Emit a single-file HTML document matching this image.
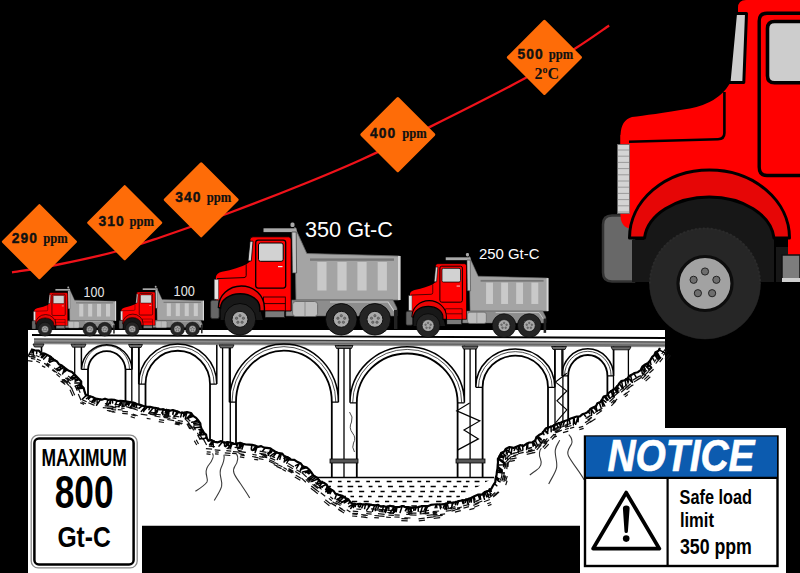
<!DOCTYPE html><html><head><meta charset="utf-8"><style>html,body{margin:0;padding:0;background:#000;width:800px;height:573px;overflow:hidden}svg{display:block}</style></head><body>
<svg width="800" height="573" viewBox="0 0 800 573" font-family="Liberation Sans, sans-serif">
<rect width="800" height="573" fill="#000"/>
<path d="M28,330 H665 V428 H786 V573 H580 V525.8 H142 V573 H28 Z" fill="#fff"/>
<path d="M32,335 L665,338" stroke="#000" stroke-width="1.8" fill="none"/>
<path d="M34,338.4 L665,341.4 L665,347.2 L34,344.2 Z" fill="#8e8e8e"/>
<path d="M34,339 L665,342" stroke="#3a3a3a" stroke-width="1.2" fill="none"/>
<path d="M34,342.3 L665,345.3" stroke="#666" stroke-width="1.4" fill="none"/>
<path d="M88,395.4 V369.4 A18.8,19.8 0 0 1 125.5,369.4 V401.1" stroke="#000" stroke-width="1.8" fill="none"/>
<path d="M81.4,344.4 V369.4 A25.4,26.4 0 0 1 132.1,369.4 V344.4" stroke="#000" stroke-width="1.5" fill="none"/>
<path d="M84,369.4 A22.7,23.8 0 0 1 129.5,369.4" stroke="#000" stroke-width="0.7" fill="none"/>
<path d="M81.4,369.4 H88 M125.5,369.4 H132.1" stroke="#000" stroke-width="1.2"/>
<path d="M145.5,406.3 V384.1 A32.2,33.3 0 0 1 210,384.1 V440.6" stroke="#000" stroke-width="1.8" fill="none"/>
<path d="M138.7,344.7 V384.1 A39,40.1 0 0 1 216.8,384.1 V344.7" stroke="#000" stroke-width="1.5" fill="none"/>
<path d="M141.4,384.1 A36.3,37.4 0 0 1 214.1,384.1" stroke="#000" stroke-width="0.7" fill="none"/>
<path d="M138.7,384.1 H145.5 M210,384.1 H216.8" stroke="#000" stroke-width="1.2"/>
<path d="M236,443.1 V402.2 A47.9,51.6 0 0 1 331.8,402.2 V477.5" stroke="#000" stroke-width="1.8" fill="none"/>
<path d="M229.4,345.2 V402.2 A54.5,58.2 0 0 1 338.4,402.2 V345.2" stroke="#000" stroke-width="1.5" fill="none"/>
<path d="M232,402.2 A51.9,55.6 0 0 1 335.8,402.2" stroke="#000" stroke-width="0.7" fill="none"/>
<path d="M229.4,402.2 H236 M331.8,402.2 H338.4" stroke="#000" stroke-width="1.2"/>
<path d="M356.8,477.5 V402.8 A50.4,49.3 0 0 1 457.6,402.8 V477.5" stroke="#000" stroke-width="1.8" fill="none"/>
<path d="M350,345.8 V402.8 A57.2,56.1 0 0 1 464.4,402.8 V345.8" stroke="#000" stroke-width="1.5" fill="none"/>
<path d="M352.7,402.8 A54.5,53.4 0 0 1 461.7,402.8" stroke="#000" stroke-width="0.7" fill="none"/>
<path d="M350,402.8 H356.8 M457.6,402.8 H464.4" stroke="#000" stroke-width="1.2"/>
<path d="M482.6,477.5 V387.3 A32.7,31.6 0 0 1 548,387.3 V427.3" stroke="#000" stroke-width="1.8" fill="none"/>
<path d="M475.8,346.3 V387.3 A39.5,38.4 0 0 1 554.8,387.3 V346.3" stroke="#000" stroke-width="1.5" fill="none"/>
<path d="M478.5,387.3 A36.8,35.7 0 0 1 552.1,387.3" stroke="#000" stroke-width="0.7" fill="none"/>
<path d="M475.8,387.3 H482.6 M548,387.3 H554.8" stroke="#000" stroke-width="1.2"/>
<path d="M568.2,419.7 V375.9 A19.6,20.9 0 0 1 607.4,375.9 V394.1" stroke="#000" stroke-width="1.8" fill="none"/>
<path d="M562,346.7 V375.9 A25.8,27.1 0 0 1 613.6,375.9 V346.7" stroke="#000" stroke-width="1.5" fill="none"/>
<path d="M564.5,375.9 A23.3,24.6 0 0 1 611.1,375.9" stroke="#000" stroke-width="0.7" fill="none"/>
<path d="M562,375.9 H568.2 M607.4,375.9 H613.6" stroke="#000" stroke-width="1.2"/>
<path d="M74.7,344.2 V375" stroke="#000" stroke-width="1.3"/>
<path d="M131.8,344.5 V402.1" stroke="#000" stroke-width="1.3"/>
<path d="M139,344.5 V404.5" stroke="#000" stroke-width="1.3"/>
<path d="M222.6,344.9 V441.8" stroke="#000" stroke-width="1.3"/>
<path d="M230.3,345 V442.6" stroke="#000" stroke-width="1.3"/>
<path d="M344,345.5 V477.5" stroke="#000" stroke-width="1.3"/>
<path d="M470.1,346.1 V477.5" stroke="#000" stroke-width="1.3"/>
<path d="M555,346.5 V424.4" stroke="#000" stroke-width="1.3"/>
<path d="M562.9,346.6 V421.2" stroke="#000" stroke-width="1.3"/>
<path d="M613.5,346.8 V388.8" stroke="#000" stroke-width="1.3"/>
<path d="M628.4,346.9 V377.4" stroke="#000" stroke-width="1.3"/>
<path d="M33,344 h11 l-1.5,3 h-8 z" fill="#6a6a6a" stroke="#000" stroke-width="0.8"/>
<path d="M71,344.2 h15 l-1.5,3 h-12 z" fill="#6a6a6a" stroke="#000" stroke-width="0.8"/>
<path d="M128.5,344.5 h14 l-1.5,3 h-11 z" fill="#6a6a6a" stroke="#000" stroke-width="0.8"/>
<path d="M219,344.9 h15 l-1.5,3 h-12 z" fill="#6a6a6a" stroke="#000" stroke-width="0.8"/>
<path d="M335,345.5 h18 l-1.5,3 h-15 z" fill="#6a6a6a" stroke="#000" stroke-width="0.8"/>
<path d="M462,346.1 h16 l-1.5,3 h-13 z" fill="#6a6a6a" stroke="#000" stroke-width="0.8"/>
<path d="M551.5,346.5 h15 l-1.5,3 h-12 z" fill="#6a6a6a" stroke="#000" stroke-width="0.8"/>
<path d="M611,346.8 h20 l-1.5,3 h-17 z" fill="#6a6a6a" stroke="#000" stroke-width="0.8"/>
<rect x="330" y="459" width="28" height="4" fill="#555" stroke="#000" stroke-width="0.8"/>
<rect x="456" y="459" width="29" height="4" fill="#555" stroke="#000" stroke-width="0.8"/>
<path d="M41.5,347 V352" stroke="#000" stroke-width="1.6"/>
<path d="M349.5,412 q4,5 2,10 q-3,6 1,11 q4,5 1,10 q-2,4 1,9" stroke="#4a4a4a" stroke-width="1" fill="none"/>
<path d="M469.6,402.9 L456.8,410.8 L479.8,420.9 L464,429.9 L478.4,438.9 L457.4,450.1" stroke="#000" stroke-width="1.2" fill="none"/>
<path d="M566.8,373.2 L555.5,382.1 L566.8,391 L557,400.8 L566.8,409.8 L555.5,422.8" stroke="#000" stroke-width="1.1" fill="none"/>
<clipPath id="wclip"><path d="M316.5,477.5 L493.8,477.5 L450,503 L415,507.4 L390,506.5 L354,503.5 L336,493 L316.5,477.5 Z"/></clipPath>
<path d="M300,481.5 h4.1 M309,481.5 h4.8 M318.5,481.5 h4.6 M328.5,481.5 h3.6 M337.9,481.5 h3.6 M347,481.5 h3.6 M355.4,481.5 h4.3 M366.3,481.5 h3.7 M375.1,481.5 h4.8 M386.7,481.5 h4.7 M396.9,481.5 h5.5 M407,481.5 h5.2 M417.4,481.5 h3.8 M426,481.5 h4.1 M436.6,481.5 h3.9 M446.5,481.5 h4.8 M456.7,481.5 h4.6 M465.9,481.5 h3.6 M474.6,481.5 h4.9 M485,481.5 h4.1 M495.1,481.5 h4.4 M305,486.5 h5.1 M316.3,486.5 h4 M326.3,486.5 h4.6 M337.5,486.5 h5 M347.7,486.5 h5.5 M357.9,486.5 h4.3 M368.7,486.5 h3.8 M378.2,486.5 h3.6 M387.9,486.5 h5 M398.9,486.5 h5.3 M409.4,486.5 h4.9 M420.3,486.5 h4.7 M430.6,486.5 h5.2 M442.7,486.5 h4.4 M453.3,486.5 h3.6 M463.1,486.5 h4.8 M474.9,486.5 h5.1 M485.3,486.5 h4.3 M495.7,486.5 h3.5 M300,491.5 h3.8 M308.6,491.5 h3.6 M318.7,491.5 h3.8 M327.5,491.5 h4.3 M338.5,491.5 h3.7 M347.8,491.5 h4.6 M359.1,491.5 h5.1 M370.9,491.5 h4.1 M380.5,491.5 h4.2 M391.4,491.5 h5.4 M401.7,491.5 h3.9 M410.6,491.5 h4 M420.3,491.5 h4.7 M430.2,491.5 h3.5 M439.2,491.5 h4.2 M449.4,491.5 h5.4 M461,491.5 h4.5 M471.6,491.5 h4.9 M481.1,491.5 h5.3 M492.8,491.5 h5.2 M305,496.5 h4.3 M314.8,496.5 h3.7 M324.6,496.5 h3.6 M332.9,496.5 h3.9 M341.7,496.5 h4.2 M350.5,496.5 h3.5 M358.9,496.5 h3.7 M368,496.5 h3.6 M378.2,496.5 h4.7 M387.8,496.5 h4 M397.2,496.5 h4.2 M406.2,496.5 h5.2 M418.4,496.5 h4.4 M428.6,496.5 h3.7 M437,496.5 h4.2 M446.3,496.5 h5.2 M456.4,496.5 h3.5 M466.8,496.5 h4.6 M476.2,496.5 h4.6 M485.4,496.5 h4.6 M496.9,496.5 h5.2 M300,501.5 h4 M309.4,501.5 h3.8 M319.7,501.5 h4.6 M330.7,501.5 h4.2 M339.9,501.5 h5.1 M352,501.5 h5.2 M363.7,501.5 h5.1 M375.2,501.5 h4 M385,501.5 h4.2 M393.8,501.5 h3.6 M402.5,501.5 h4 M412.8,501.5 h5.4 M423.8,501.5 h5.4 M436.1,501.5 h5.4 M447,501.5 h3.9 M456,501.5 h3.9 M464.9,501.5 h4.7 M476.4,501.5 h5.2 M487.2,501.5 h4.8 M498.6,501.5 h3.7 M305,506 h5.3 M316.8,506 h5 M327.5,506 h3.9 M337.8,506 h4.2 M348.5,506 h5.4 M359.4,506 h4.3 M370.6,506 h4.9 M380.4,506 h3.8 M389.1,506 h5.3 M400.9,506 h3.8 M411.3,506 h5.5 M422.9,506 h4.2 M432.9,506 h3.8 M441.2,506 h5.4 M452.8,506 h4.6 M464.2,506 h4.4 M475.2,506 h5.2 M485.4,506 h4 M494.7,506 h4" stroke="#000" stroke-width="1.5" clip-path="url(#wclip)"/>
<path d="M316,477.5 H494" stroke="#000" stroke-width="1.5"/>
<path d="M31.1,349.3 L34.7,350.3 L38.7,350.5 L41.2,353.3 L44.8,353.7 L47.9,355.3 L50.9,356.9 L53.3,359.7 L56.7,361.2 L58.9,364.2 L62.2,365.8 L65,368.1 L68.2,370.4 L72,371.9 L74.8,374.9 L78,378.1 L81.2,381.6 L81.2,385.4 L83.7,388 L84.5,391.4 L85.7,394.9 L89.1,396 L92.5,397 L95.6,398.7 L98.7,399.1 L101.8,399.8 L105,398.7 L108.1,399.8 L111.3,399.5 L114.4,399.8 L117.4,401 L120.6,400.8 L123.7,401.1 L126.8,401.8 L129.7,402.3 L133.4,402.5 L136.7,404 L140.1,404.9 L143.5,406 L146.7,406.9 L150,406.9 L153.2,407.6 L156.5,408 L159.6,409.4 L162.9,409.4 L166.1,410.2 L169.4,410.9 L172.8,410 L176,411.1 L179.5,412.5 L183.1,412.9 L187,412.2 L191,413 L193.1,415.9 L196.1,417.9 L198.5,420.8 L200.3,423.4 L200.7,426.7 L202,429.6 L203.3,432.5 L206.1,434.6 L206.6,437.9 L208.5,440.8 L211.7,440.1 L214.7,441.9 L217.9,442.3 L221.2,441.1 L224.2,442.9 L227.4,442.1 L230.6,442.6 L233.6,443.9 L236.8,443.9 L240.1,442.8 L243,443.9 L246,444.5 L249.1,444.7 L252.1,444.9 L255.1,445.6 L257.9,446.9 L261.2,446.1 L264,447.6 L267,447.9 L270.4,448.4 L273.1,450.3 L275.9,452.1 L279,453.2 L282.3,453.6 L284.6,456.6 L287.7,457.5 L290.5,459.6 L294.4,459.8 L297.2,461.8 L300.5,463.2 L302.7,466.2 L306.3,467.2 L309.1,469.5 L311.4,472.4 L313.3,475.6 L316.5,477.5" stroke="#000" stroke-width="2.2" fill="none" stroke-linejoin="round"/>
<path d="M28.7,354.2 L35.3,355.5 M28.3,356.3 L34.9,357.5 M31.3,356.2 L35.7,357.1 M30.9,358.3 L35.3,359.1 M28.1,360.6 L32.5,361.4 M36.1,355.5 L39.5,357 M44.1,363.4 L49,365.6 M37,359.1 L40.8,360.7 M36.2,361 L39.9,362.7 M42,365.9 L45.3,367.4 M56.2,368.3 L59.4,370.8 M54,367.9 L58.2,371.2 M52.7,369.5 L56.9,372.8 M52.1,369.7 L54.9,372 M46.9,362.9 L50.4,365.6 M45.6,364.5 L49.1,367.3 M57.8,372.7 L61.2,375.4 M56.5,374.3 L59.9,377.1 M65.3,377.9 L69.4,380.8 M64.1,379.6 L68.1,382.5 M68,375.9 L72.3,379 M66.7,377.6 L71.1,380.7 M63,379.4 L65.9,381.5 M61.8,381.1 L64.6,383.2 M61.8,379.4 L66.6,382.8 M60.6,381.1 L65.3,384.5 M69.5,385.7 L72.2,389 M67.3,380.3 L70.5,384.2 M65.7,381.6 L68.9,385.6 M64.9,380.8 L67.8,384.3 M77.4,386.6 L80.2,392.7 M77.1,385.3 L79.2,390 M75.2,386.1 L77.3,390.8 M71.9,388.9 L74.7,395.2 M70,389.7 L72.8,396 M78.3,394.1 L81,400.3 M82.4,399.9 L86.7,401.7 M81.6,401.8 L85.9,403.7 M89.1,400.8 L95.3,403.5 M88.3,402.8 L94.5,405.4 M80.1,402.7 L84.1,404.4 M122.3,411.3 L128,411.8 M122.2,413.4 L127.8,413.9 M111.9,409.7 L115.5,410 M111.7,411.8 L115.4,412.1 M107,408.4 L111,408.7 M106.9,410.5 L110.8,410.8 M108.7,411.1 L114.1,411.5 M109.1,406.2 L113.6,406.6 M108.9,408.3 L113.4,408.7 M117.8,409.6 L122.7,410 M102.8,407.6 L107.7,408 M114.8,404.4 L120,404.8 M114.6,406.5 L119.8,406.9 M111.6,407.4 L116.3,407.8 M111.4,409.5 L116.1,409.8 M107.5,407.8 L111.8,408.2 M104.9,403.7 L109.2,404.1 M104.7,405.8 L109,406.2 M121.2,406 L124.8,406.3 M121.1,408.1 L124.6,408.4 M126.2,406.6 L132.7,408.8 M130.9,407.5 L136.2,409.3 M131.3,414.6 L135.6,416 M130.7,416.6 L134.9,418 M132.8,414 L137.7,415.7 M133.9,406.7 L138.5,408.3 M133.2,408.7 L137.9,410.3 M163.9,415.2 L170.7,416.3 M163.6,417.3 L170.4,418.3 M159.1,419.6 L164.2,420.4 M158.7,421.7 L163.9,422.5 M140.7,414.2 L147.4,415.2 M146.7,418.4 L150.6,419 M163.3,414.2 L168.3,414.9 M163,416.2 L168,417 M167.3,419.5 L174.2,420.6 M150.1,412.1 L156.8,413.2 M149.8,414.2 L156.5,415.3 M154.8,414 L160.7,414.9 M154.5,416 L160.4,417 M172.5,417.8 L176.3,418.4 M148.2,413.3 L155,414.3 M175.1,421.8 L180.1,422.7 M174.7,423.9 L179.7,424.8 M173.2,415.8 L179.3,416.8 M177.8,420.5 L182.9,421.3 M177.5,422.5 L182.6,423.4 M175.5,422.9 L182,424 M189.5,424.4 L192.8,427.7 M188.1,425.9 L191.3,429.2 M186.5,417.5 L190.3,421.2 M185.1,418.9 L188.8,422.7 M187.7,423.5 L192.6,428.4 M188.8,422.7 L191.6,428 M186.9,423.7 L189.8,429 M193.5,426.6 L195.4,430.1 M203.7,439.6 L206.6,445 M196.2,439.7 L198.5,444 M194.3,440.7 L196.7,445 M193.5,425.7 L195.5,429.4 M191.7,426.7 L193.7,430.4 M199.3,431.9 L201.1,435.3 M197.4,432.9 L199.3,436.3 M199.5,433.9 L202,438.6 M197.6,434.9 L200.2,439.6 M234.6,447.4 L239.8,447.9 M215.2,451.8 L218.8,452.1 M215,453.9 L218.6,454.2 M214.7,449.8 L220.4,450.3 M233,451.6 L239.3,452.2 M224.8,452.9 L230.5,453.4 M224.6,455 L230.3,455.5 M232.1,453.3 L236.2,453.7 M206.7,451.9 L210.7,452.2 M206.5,453.9 L210.5,454.3 M208.8,446.2 L214.9,446.7 M205.9,448.6 L212.1,449.2 M226.5,448.5 L231.4,449 M226.3,450.6 L231.2,451.1 M240.3,454.8 L244.7,455.6 M239.9,456.9 L244.3,457.6 M239.3,451.3 L245.9,452.4 M252.4,454.4 L256.7,455.1 M252.1,456.5 L256.3,457.2 M238.2,448.3 L242.2,449 M237.8,450.4 L241.8,451.1 M254.5,457.2 L258.5,457.9 M254.2,459.3 L258.2,459.9 M239,451.4 L244.6,452.4 M238.6,453.5 L244.3,454.5 M262.3,454.7 L267.5,455.5 M261.9,456.7 L267.2,457.6 M259.7,451.2 L266.5,452.4 M259.3,453.3 L266.2,454.4 M259.2,456.6 L263.9,457.4 M258.8,458.7 L263.5,459.5 M271.6,456.2 L274.8,457.6 M270.7,458.1 L274,459.5 M277.3,464.5 L282.4,466.7 M276.5,466.4 L281.6,468.6 M269,461.3 L274.6,463.7 M267.4,452 L270.8,453.4 M271.6,456 L275.1,457.5 M260.9,454.3 L267.2,457 M269.9,457.9 L275.2,460.1 M269.1,459.8 L274.4,462 M274.5,462.5 L278.3,464.2 M273.7,464.5 L277.4,466.1 M283.4,467.4 L287,469.5 M282.3,469.2 L285.9,471.3 M288.2,463.5 L294,466.9 M287.2,465.4 L293,468.7 M295.8,475.3 L301.4,478.5 M294.8,477.1 L300.3,480.3 M288.5,469.6 L293.7,472.6 M288.6,468.5 L293.4,471.3 M287.6,470.4 L292.3,473.1 M296.4,469.8 L301.2,472.6 M295.3,471.6 L300.1,474.4 M308.7,477.3 L312,480.5 M307.2,478.8 L310.6,482 M301.8,472.5 L306.7,477.1 M307.3,477.9 L310.6,481.1 M305.8,479.4 L309.2,482.6 M301.8,478.4 L305.9,482.3" stroke="#111" stroke-width="1.2" fill="none"/>
<path d="M36.9,350.9 L36.6,353.7 M31.5,349.9 L28.7,355.4 M33.5,350.3 L33.3,355 M33,350.2 L31.8,353 M45.3,354.3 L43.2,356.9 M50.2,356.4 L49.1,359.2 M43.8,353.6 L42.2,357.8 M43.4,353.4 L41.2,357.4 M50.8,356.7 L49.4,360.3 M47.3,355.2 L43.7,359.1 M42.8,353.1 L40.2,355 M53.6,358.8 L49.3,360.4 M54.9,359.9 L49.8,362.4 M61.9,365.5 L60.2,367.8 M53,358.4 L48.7,361.2 M55.2,360.2 L49.6,362.1 M64.4,367.5 L58.1,370.1 M63.5,366.8 L59.3,370.6 M61.7,365.4 L57.3,368.7 M55,360 L49.7,362.1 M65.8,368.6 L64,370.6 M74.3,374.7 L71,377.3 M65.5,368.4 L63.5,370.1 M67.4,369.7 L64.5,372 M65.7,368.5 L62.6,373.9 M65.9,368.6 L63.1,372.3 M78.3,379.5 L75.1,380 M76.1,376.8 L70.4,378.4 M77.9,379 L74.9,379.3 M76.2,376.9 L71.9,379.8 M78.5,379.7 L75.1,381.3 M80.8,383.1 L74.8,383 M82.3,386.5 L77.6,387.9 M81.9,385.5 L78.7,385.7 M83.1,388.2 L76.8,388.8 M81.2,384 L75.2,386.1 M82.6,387.1 L76.9,387.7 M95.6,398.7 L92,402.4 M90.1,396.3 L86.5,398.7 M86.9,394.9 L82.2,399.3 M95,398.4 L92.1,401 M90.9,396.6 L88.5,399.2 M121.3,400.8 L119.5,404 M121.5,400.8 L120.3,405.2 M108,399.7 L106.4,404.8 M122.8,400.9 L118.7,406.5 M126.4,401.2 L125.6,405.2 M110.5,399.9 L110.3,403.7 M128.9,401.4 L127.7,404.3 M121.9,400.8 L122.4,406.6 M112.4,400.1 L112.6,402.9 M127.5,401.3 L125.9,405.8 M111,400 L107.8,405.3 M100.8,399.1 L96.5,405.2 M124,401 L123.9,406.3 M126.4,401.2 L126.2,404 M95.6,398.7 L94.8,401.7 M96.9,398.8 L97.3,404.2 M117.2,400.5 L115.4,404.9 M130.3,401.6 L128.5,405.7 M135.7,403.4 L134.2,406.6 M142.5,405.7 L139.2,408.2 M134.6,403 L132.9,406.9 M132.7,402.4 L130.7,407.7 M136.8,403.8 L136.3,407.1 M134.2,402.9 L129.7,407.5 M168.2,409.8 L167.5,413.8 M153.5,407.5 L149.2,412.7 M166.4,409.5 L165.2,412.7 M158,408.2 L157.3,412 M158.9,408.4 L155.8,413 M163.8,409.1 L161.7,413 M158.6,408.3 L154.1,413.4 M149.8,407 L149,409.6 M155.3,407.8 L155.3,411.7 M144.9,406.2 L143.7,411.6 M173.5,410.6 L172.8,414.2 M162.9,409 L162.8,414.8 M145.6,406.3 L141.3,411.5 M166.8,409.6 L166.1,413.9 M169.2,409.9 L168.4,416.1 M147.8,406.7 L144.1,410.6 M173.8,410.7 L172.9,414.3 M177.2,411.2 L176,413.9 M186.3,412.8 L183.5,416.6 M182,412 L180.7,416.9 M186.8,412.9 L185.3,418.6 M177.8,411.3 L174.2,416.6 M184.2,412.4 L183.4,416.3 M178.9,411.5 L176.6,414.7 M197.1,420.1 L194,421.8 M193.3,416.3 L187,418.5 M190.9,413.9 L187.6,417.5 M192,415 L189.5,416.5 M191.8,414.8 L188.4,418.3 M205.3,434.6 L200.8,434.9 M201.2,427 L194.4,427.7 M203.9,432 L199.9,432.8 M207.1,437.9 L200.2,438.8 M200.1,424.8 L194,424.9 M198.1,421.1 L191.8,422.3 M206.6,437 L203.2,439.3 M202.8,430 L199,429.6 M203.8,431.8 L199.6,434.7 M198.9,422.7 L193.7,423.5 M203.3,430.8 L199.9,431.1 M228.3,442.4 L226.7,446 M226.9,442.2 L226,446.4 M222.6,441.8 L219.3,445.8 M228,442.4 L225.4,446.6 M232.6,442.8 L230.4,448.2 M214.2,441 L211.1,445.2 M212.5,440.9 L209.6,444.8 M222.4,441.8 L219,446.1 M228.5,442.4 L228.2,445.2 M233,442.8 L229.6,447.1 M224.4,442 L224.6,446.1 M212.8,440.9 L213.4,446.9 M231.6,442.7 L228,448.1 M239.4,443.4 L239.7,448 M237.4,443.2 L237.1,446.4 M237.8,443.3 L236.5,445.9 M255.6,446.1 L254.9,450 M251.9,445.5 L251.3,448.6 M241.3,443.7 L237.7,449 M257.3,446.4 L255.1,452.5 M257.9,446.5 L254.7,449.8 M240.9,443.7 L240,446.6 M251.7,445.4 L251.4,450 M243.6,444.1 L242.6,447.4 M240.6,443.6 L239.2,445.9 M242.9,444 L240.3,447.5 M255.8,446.1 L252.5,450.5 M256.8,446.3 L253.6,450.2 M265.3,447.7 L262.8,450.8 M242.6,443.9 L242.2,449 M280.1,453.6 L277.3,459.5 M277,452.3 L273.7,455.9 M276.2,451.9 L270.2,456.1 M280.8,453.9 L280.1,457.1 M272.5,450.4 L267.7,453.8 M285.7,456 L284.1,462.1 M272.5,450.4 L271.1,452.7 M281.3,454.1 L279.8,459.2 M287.4,456.7 L286.4,460.3 M285.8,456 L284,458.4 M270.6,449.5 L268.5,455.3 M290.6,458.5 L287.9,460 M304.7,466.8 L300.8,469 M288.5,457.3 L287,459.5 M299.4,463.7 L296.6,468.1 M289.2,457.7 L285.2,461 M302.7,465.6 L300.3,470.9 M289.2,457.7 L286.8,463.2 M305,466.9 L302.2,468.7 M290,458.2 L288.8,460.5 M302.6,465.5 L300.3,470 M299.4,463.6 L295.6,465.7 M306.3,467.8 L301.1,469.2 M310.9,472.2 L308.7,473.8 M313.5,474.6 L308.7,478.1 M309,470.4 L305.4,472.8 M309,470.4 L302.6,471.9 M309.7,471 L307.5,472.9 M314.7,475.8 L309.5,479.6 M316.1,477.1 L312.3,479.8" stroke="#000" stroke-width="1.5" fill="none" stroke-linecap="round"/>
<path d="M316.9,477 L318.5,479.9 L320.8,482.1 L324.1,482.9 L326.7,484.7 L328.1,487.9 L330.8,489.5 L333.6,491 L335.5,493.8 L338.9,494.9 L342.4,495.8 L345.2,498 L348.4,499.3 L350.6,502.5 L353.9,504.3 L357,504.2 L360,503.8 L363,504.5 L366,504.2 L369,504.4 L372,504.9 L375,505.3 L378.1,504.8 L380.9,506.7 L384,506.3 L386.9,507.1 L390,505.8 L393.1,506.8 L396.2,507.1 L399.4,507 L402.5,506 L405.6,507.2 L408.7,507.2 L411.8,508 L415,507.3 L418.2,507.1 L421.3,506.2 L424.5,506.1 L427.8,506.2 L430.8,504.9 L434,504.5 L437.2,504.3 L440.5,504.5 L443.7,504.2 L446.8,503.4 L449.9,502.5 L453.1,502.8 L456.2,502.1 L459.1,501 L462.1,500.5 L465.2,500.2 L468.1,499 L471.1,498 L474.4,496.2 L477.8,494.7 L481.8,494.7 L484.7,492.1 L488.5,490.9 L491.5,488.6 L493.2,485.3 L495.3,482.1 L495.6,478.3 L496.6,474.9 L496.9,471.7 L497.5,468.5 L497.7,465.3 L498,462.1 L497.9,458.9 L499.6,456.3 L501,453.1 L504.2,451.6 L506,448.7 L509.5,447 L513.5,447.9 L517,446.4 L520,445.2 L523.6,445.9 L526.4,443.8 L529.4,442.5 L532.4,442.3 L535.3,440.5 L536.4,437.1 L539,435.1 L542.1,433.5 L544,430.9 L546,428.4 L549.2,427.2 L552.4,426.2 L555.5,424.5 L558.6,423.2 L561.8,422.3 L564.7,421 L567.8,420 L570.7,418.5 L573.7,417.5 L576.7,416.5 L579.9,416.3 L582.3,414.3 L585.5,413.2 L588.3,411.8 L590.2,409 L593,407.5 L596,406.2 L597.4,403.2 L600.5,402 L602.2,399.3 L603.7,396.5 L607,395.5 L608.7,392.8 L611.5,390.9 L614.4,389 L617.1,386.9 L619,383.8 L621.2,381.1 L624.8,380.3 L627.5,378.8 L629.3,375.9 L632,374.6 L634.6,373 L637.8,372.2 L640.7,370.2 L642.3,366.7 L645.2,364.5 L648.4,362.9 L650.5,359.9 L652,357.2 L654.3,355.2 L655.5,352.2 L658.6,350.8 L660,348" stroke="#000" stroke-width="2.2" fill="none" stroke-linejoin="round"/>
<path d="M315.1,488.9 L319.1,492.1 M313.8,490.5 L317.8,493.7 M312.5,484.4 L317.8,488.6 M311.2,486 L316.5,490.3 M330.2,496.7 L333.1,499 M328.9,498.4 L331.8,500.7 M320,485.4 L322.9,487.7 M318.7,487 L321.6,489.4 M320.8,492.8 L325.2,496.2 M312.1,486.5 L317.4,490.8 M310.8,488.2 L316.1,492.4 M325.3,499.8 L330.7,504 M324,501.4 L329.4,505.7 M315.3,482.5 L320.2,486.3 M314,484.1 L318.9,488 M335.4,502.5 L340.5,505.4 M346.7,509.7 L350.4,511.9 M339.2,507.3 L342.8,509.4 M338.1,509.1 L341.7,511.2 M336.9,499.1 L342.7,502.5 M335.9,500.9 L341.6,504.3 M331,502.9 L335.9,505.7 M339.7,508 L345.1,511.2 M338.7,509.8 L344.1,513 M332.5,501.8 L337.1,504.5 M331.4,503.6 L336.1,506.3 M356.3,509 L361.2,509.4 M362.9,515.1 L367.7,515.5 M362.7,517.2 L367.5,517.6 M378,513.7 L384.7,514.3 M377.8,515.8 L384.5,516.4 M366.4,511.6 L371.8,512.1 M366.2,513.7 L371.6,514.2 M361.2,514.7 L366.1,515.1 M361,516.8 L365.9,517.2 M386.2,517.1 L390.9,517.5 M374.4,515.5 L379,515.9 M374.2,517.6 L378.9,517.9 M375.9,509.9 L382.7,510.5 M378.9,509.4 L384.9,509.9 M378.7,511.5 L384.7,512 M371,508.9 L375.6,509.2 M352.2,513.9 L357.4,514.3 M352.1,516 L357.2,516.4 M352.8,511.2 L358.2,511.6 M352.7,513.3 L358,513.7 M406.3,512.2 L410,512.3 M406.2,514.3 L409.9,514.4 M404.4,517.8 L410.5,518 M394.4,514.9 L399.7,515.1 M394.3,517 L399.6,517.2 M409.7,512.9 L416.5,513.1 M409.6,515 L416.5,515.2 M387.4,510.4 L393.9,510.7 M387.3,512.5 L393.9,512.8 M408,511.3 L412.6,511.5 M407.9,513.4 L412.5,513.6 M401.4,518.6 L407.8,518.8 M401.3,520.7 L407.7,520.9 M388.5,513.1 L394,513.3 M388.4,515.2 L393.9,515.4 M422.4,511.2 L429,510.4 M422.7,513.3 L429.2,512.5 M418.5,518.8 L424.7,518.1 M418.8,520.9 L425,520.1 M438,515.9 L442.7,515.3 M432.5,512.9 L437.2,512.3 M432.7,515 L437.5,514.4 M445.5,509.1 L451.1,508.4 M445.8,511.2 L451.3,510.5 M426.7,515.5 L433.4,514.7 M426.9,517.6 L433.6,516.8 M440,514.6 L445.1,513.9 M432.7,511.7 L436.4,511.3 M433,513.8 L436.7,513.4 M433.4,516.3 L439.9,515.5 M433.7,518.4 L440.2,517.6 M425.1,514 L429.3,513.5 M419.4,511.9 L425.3,511.2 M419.7,514 L425.6,513.3 M433,511.7 L439.1,511 M451.5,511.1 L455,510.2 M454.4,510 L460.3,508.6 M454.9,512.1 L460.8,510.6 M449.3,508 L455.3,506.6 M463,506 L468.4,504.7 M463.5,508.1 L468.9,506.7 M451.6,509.1 L455.9,508 M457,508.2 L461.9,507 M469.4,509.6 L474.4,508.4 M473.3,505.4 L478.6,503.3 M474,507.3 L479.3,505.3 M483.9,501.8 L489.9,499.5 M474.2,502.2 L478.7,500.5 M475,504.1 L479.4,502.4 M487.2,503.8 L490.8,502.5 M487.9,505.8 L491.5,504.4 M475.5,501.3 L481.5,499 M476.3,503.3 L482.3,501 M487.2,496.7 L491.7,493.1 M488.5,498.4 L493,494.7 M495.8,494.7 L499.1,492.1 M493.5,495.9 L498.5,491.8 M491.8,495.3 L495.3,492.5 M493.1,497 L496.6,494.2 M501.8,481.2 L503.7,475.5 M503.8,481.9 L505.7,476.2 M505.7,485.1 L507.1,480.8 M503.6,480.4 L505.3,475.4 M505.6,481.1 L507.3,476.1 M500.3,480.6 L501.7,476.5 M501.7,477.1 L502.1,471.9 M503.8,477.3 L504.2,472.1 M502.8,462.7 L503.2,458.8 M503.4,467.2 L503.8,462.9 M505.5,467.4 L505.9,463.1 M507.9,466.9 L508.3,462.8 M505.5,460 L505.9,455.1 M507.5,460.2 L508,455.3 M504.7,468.9 L505.3,462.1 M506.8,469.1 L507.4,462.3 M505.8,462 L509,458.9 M507.3,463.5 L510.5,460.4 M506,454.2 L508.7,451.4 M505.3,459.6 L510.1,454.8 M506.8,461.1 L511.6,456.3 M512.8,453.4 L517.8,452.4 M513.3,455.5 L518.2,454.5 M512,456.7 L516.1,455.9 M512.4,458.8 L516.6,457.9 M510,459.2 L514.5,458.3 M510.4,461.3 L514.9,460.4 M510.3,454.1 L514.5,453.3 M526.2,452.4 L532.4,450.8 M526.7,454.4 L532.9,452.9 M527.6,448.4 L531.8,447.4 M528.1,450.5 L532.3,449.5 M527.6,448.9 L532.1,447.7 M528.1,450.9 L532.6,449.8 M517.7,451.7 L523.2,450.3 M518.2,453.7 L523.7,452.4 M528.9,451.7 L534.8,450.2 M529.4,453.7 L535.3,452.3 M540.5,443.2 L544.1,439.2 M542,442.4 L544.9,439.2 M543.6,443.8 L546.5,440.7 M542.8,447.5 L547.1,442.7 M544.3,448.9 L548.7,444.1 M538.5,446.9 L543,442 M535.1,448.5 L539.6,443.6 M536.7,449.9 L541.1,445 M550.5,438.1 L554.1,434.1 M552,439.5 L555.7,435.5 M543.4,442.6 L547.4,438.3 M545,444.1 L549,439.7 M556,432.6 L561.8,430.1 M553.9,430.4 L557.7,428.8 M554.7,432.3 L558.5,430.7 M553.9,429.6 L559,427.5 M554.8,431.5 L559.8,429.4 M555.1,428.5 L559.7,426.6 M552.7,435.5 L556,434.1 M553.5,437.4 L556.8,436.1 M552.2,430.3 L555.5,428.9 M564.5,425.3 L570.9,423.5 M565.1,427.3 L571.5,425.5 M561.4,427 L566.9,425.4 M563,432.7 L568.3,431.2 M570,428.3 L574.2,427.2 M564.9,429.5 L568.8,428.4 M578.8,427.6 L583.2,426.3 M579.4,429.6 L583.7,428.4 M587.6,420 L591.3,417.5 M585.6,418.5 L590.5,415.2 M585,422.8 L590.2,419.4 M586.2,424.6 L591.4,421.1 M590.2,422.3 L595.5,418.8 M586.7,418.3 L590.8,415.6 M587.9,420.1 L592,417.4 M595.1,412.6 L600.8,408.8 M596.3,414.4 L602,410.6 M612.8,403.4 L617.1,399 M599.4,410.9 L602.4,407.8 M609.5,401.7 L612.9,398.4 M611,403.2 L614.4,399.8 M611.3,405.8 L615.9,401.2 M609.7,398.8 L613.1,395.5 M611.2,400.3 L614.6,396.9 M623.6,395.3 L626.6,392.8 M624.9,396.9 L627.9,394.5 M613.2,394.1 L618.2,390 M614.5,395.7 L619.5,391.6 M625,394.6 L629.5,390.9 M622,388.6 L627.2,384.4 M623.3,390.3 L628.5,386 M625.3,388.2 L630,384.3 M626.6,389.8 L631.3,385.9 M619.8,390.6 L623.9,387.2 M621.1,392.2 L625.3,388.8 M625.6,388 L630.8,383.7 M626.9,389.6 L632.1,385.3 M628.3,387.9 L633.4,384.8 M636.1,378.2 L640.8,375.4 M637.2,380 L641.8,377.2 M632.9,379.9 L637.1,377.4 M632.8,380.3 L638.7,376.8 M633.9,382.1 L639.8,378.6 M635.7,378.2 L639.5,375.9 M636.8,380 L640.6,377.7 M640.6,377.1 L644.8,373.3 M642,378.7 L646.2,374.9 M648.2,369.8 L651.5,366.8 M648,367.4 L651.6,364.1 M642.7,374.1 L646.9,370.2 M644.1,375.6 L648.3,371.8 M644.2,379.6 L648.9,375.3 M645.6,381.1 L650.3,376.8 M648,371.5 L652.2,367.6 M649.4,373 L653.6,369.2 M665.1,359 L668.9,354.1 M666.7,360.3 L670.6,355.4 M654,362.3 L656.3,359.4 M655.7,363.6 L658,360.7 M658,360.9 L661.1,356.9 M659.7,362.2 L662.8,358.2 M661.7,354 L665.4,349.2 M663.3,355.3 L667,350.5" stroke="#111" stroke-width="1.2" fill="none"/>
<path d="M329,487.5 L325.8,491.8 M319.4,479.8 L316.3,484 M332,489.8 L330.1,493.6 M331.3,489.3 L328.2,493.3 M325.7,484.8 L320,487.5 M330.2,488.4 L327.7,493.1 M329.7,488 L327.1,491.6 M332.1,489.9 L329.3,492.7 M322.7,482.5 L319.5,485.6 M318.2,478.8 L311.7,481.5 M322.4,482.2 L317.9,483.8 M327.5,486.3 L325.6,489.6 M348.1,500 L345.1,501.7 M343.5,497.4 L339.2,501.6 M346,498.9 L344.2,502.9 M348.6,500.4 L345.2,502.4 M346.8,499.3 L341.4,502.5 M341.8,496.4 L338,500.3 M341.3,496.1 L338,499.2 M354,503.5 L349,506.6 M342.5,496.8 L336.9,499.4 M336.8,493.5 L335,498.7 M350.6,501.5 L348.4,503.6 M376.6,505.4 L375.3,510.6 M378.5,505.5 L377.9,508.9 M370.5,504.9 L366.7,510.1 M360.5,504 L360.3,506.7 M386.9,506.2 L384.6,511.2 M383.6,506 L382.1,511.5 M363.3,504.3 L361.8,507.9 M365.5,504.5 L364.6,508.6 M387.6,506.3 L386.9,509 M355.4,503.6 L355.3,506.6 M374.7,505.2 L372.4,511.2 M354.5,503.5 L353.5,507.5 M387.8,506.3 L385.5,512.6 M368.8,504.7 L368.3,507.6 M361.6,504.1 L359.3,507.1 M354.2,503.5 L350.7,508.5 M388.8,506.4 L388.8,509.3 M358.6,503.9 L358.3,506.4 M394.2,506.6 L390.1,512.9 M413.8,507.4 L413.8,510.5 M401.9,506.9 L400.1,512.5 M396.8,506.7 L394.4,512.2 M397,506.8 L396.2,511.7 M410,507.2 L410.3,512.1 M408.1,507.2 L406.6,509.7 M410.8,507.2 L411.5,512.1 M396.2,506.7 L394.5,510.7 M409.3,507.2 L408.2,510.6 M407.2,507.1 L405.3,510.8 M393.9,506.6 L393.6,512.8 M447.3,503.3 L448.2,507.7 M428,505.8 L425.8,510.4 M426.1,506 L425.2,508.8 M436.2,504.7 L435.1,507.8 M445.5,503.6 L445.3,508.4 M422.5,506.5 L420.5,513 M418.4,507 L418.2,511.3 M436.3,504.7 L436.9,507.7 M426.9,505.9 L425.4,512.6 M416,507.3 L415.3,510 M439.7,504.3 L440.5,508.7 M446.3,503.5 L446.3,509.5 M447.3,503.3 L444.7,509 M426.2,506 L424.5,509.7 M447.2,503.3 L445.4,508.1 M444.7,503.7 L443.3,507.9 M440.2,504.2 L441.1,507.3 M453.3,502.2 L451.1,508.7 M463,499.8 L463.9,503.7 M466.3,499 L468.7,504.9 M458.1,501 L457.1,503.9 M470.4,497.9 L469.5,502.1 M452.4,502.4 L451.8,506.6 M465.5,499.2 L465.3,502.5 M468.7,498.4 L467.4,503.1 M458.8,500.8 L457.3,504.8 M462,500 L463,503.6 M455.5,501.6 L455.4,504.7 M480,494.4 L480.5,498.8 M478.2,495.1 L479.7,499.1 M484.2,492.8 L484.2,496.7 M471.6,497.6 L471.3,502.1 M473.5,496.8 L474.3,502.8 M474.2,496.6 L474.9,499.8 M482.6,493.4 L484.5,499.2 M489.3,489 L491.2,490.9 M489.2,489.2 L490.8,495.6 M486.6,491.2 L488.6,497.1 M486.4,491.4 L488.4,494.9 M485,492.5 L486.8,496.9 M489.5,488.9 L491.3,491.3 M494.4,483.6 L496.8,485.8 M496.7,476.9 L498.6,479.3 M496.2,478.2 L498.6,481.3 M495.9,479.2 L500.1,481.8 M496.3,478.1 L499.1,478.8 M497.7,470.4 L501.4,471.9 M499,456.1 L504.7,455.9 M498.7,459.3 L504.2,463.7 M498.2,465 L504.6,464.7 M497.7,470.2 L501.8,471.1 M497.9,468 L502.3,471.3 M498,466.7 L502.3,470.1 M497.5,472.3 L503.9,472.9 M498.9,457 L503.9,457.3 M498.8,458 L504.5,462.5 M501.4,453.3 L502.2,457 M505.7,449 L510.6,452.9 M499.6,455.2 L503.5,458.1 M502.1,452.7 L505.6,455.6 M505.4,449.3 L507.3,454.3 M512,447.5 L511.1,454.2 M516.2,446.7 L517.3,449.7 M509.6,448 L508.6,452.1 M515.7,446.8 L514.2,450.5 M506.2,448.7 L506.5,453.5 M532.7,442.6 L533.1,446.2 M527,444 L526.6,449.6 M518.6,446.1 L518.8,450.3 M518.9,446 L520.6,449.8 M519.4,445.9 L518.2,452.3 M526.8,444.1 L527.7,446.9 M527.9,443.8 L527.5,447.7 M522.6,445.1 L522.9,449.8 M527.2,444 L527.8,446.4 M533.3,442 L536.2,446.6 M532.9,442.5 L534.1,445.3 M538.2,436.7 L541.1,440.1 M545,429.2 L546.2,432.6 M538.3,436.5 L541.3,439.3 M544.6,429.7 L547.9,433.2 M542.6,431.9 L544,434.6 M537.6,437.3 L538.9,440.1 M535.1,440.1 L537.4,445.2 M537.3,437.7 L540.9,443 M553.7,424.9 L553.5,430.1 M556.1,423.9 L558.7,427.8 M554.9,424.4 L554.3,429.2 M548.4,427.2 L547.4,433.6 M547.5,427.5 L548,430.8 M558.8,422.8 L560.9,427.3 M546.9,427.8 L547.8,430.1 M551,426.1 L551.2,431.8 M577.9,417 L575.7,424.3 M574.1,418.1 L574.6,423.3 M569.2,419.4 L570.1,423.5 M562,421.5 L560.1,428.2 M564.7,420.7 L563.1,425.3 M577.8,417 L577.5,421.4 M567.8,419.9 L567.1,426.3 M573.6,418.2 L573.4,424.9 M578.4,416.9 L578.1,421.8 M593.5,407.4 L597,411.3 M595.7,405.9 L597.1,410.8 M595.5,406 L596.8,410.7 M588,411 L589.6,413.6 M590.6,409.3 L592.4,411.6 M591.6,408.7 L591.5,415.4 M591.3,408.9 L591.2,412.6 M591.2,408.9 L594.1,413.3 M583.6,414 L585.7,416.5 M607.4,394.2 L609.1,396.1 M601.7,399.8 L604.8,406 M607.5,394 L608.6,397 M599.2,402.4 L601,407.6 M604.5,397 L607,400.4 M601.3,400.3 L603,406.3 M605.3,396.2 L608.2,400 M607.9,393.6 L609.7,398.6 M602.2,399.4 L605.9,402.2 M619.6,383.8 L622.7,388.8 M616.7,386.1 L618,391.9 M619.3,384 L623.1,388.5 M616.4,386.4 L618.9,388.6 M621.7,382 L622.8,387.3 M611.3,390.7 L612.8,396.7 M612.8,389.4 L614.2,396.5 M614.2,388.3 L615.7,390.7 M610.9,391 L613.2,395.9 M616.3,386.5 L616.9,392.9 M625.1,379.4 L626,385.9 M625.9,378.8 L628.4,381.7 M626.6,378.4 L628.1,382.5 M628.3,377.4 L628,383.1 M630.6,376 L632.4,382.4 M634.2,373.9 L636.1,377.2 M627.9,377.6 L631.3,381.6 M630.8,375.9 L631.8,381.9 M642.3,367.5 L644.2,372.2 M648.4,362 L649,366.1 M644.9,365.2 L648.4,368.7 M646.7,363.5 L651.5,367.4 M644,366 L645.1,371 M641.4,368.3 L642.4,373.9 M646.5,363.7 L647.9,366.7 M650.2,360.4 L650.7,363.8 M643.3,366.7 L645.3,369.2 M654.8,354.7 L657.4,359.1 M652.4,357.7 L654,360.3 M654.9,354.5 L660.4,357.8 M658.7,349.6 L664.4,352.7 M656.4,352.6 L658.7,359 M657,351.9 L659.5,356.6 M656,353.1 L659.9,358.4" stroke="#000" stroke-width="1.5" fill="none" stroke-linecap="round"/>
<g stroke="#3a3a3a" stroke-width="1.1" fill="none">
<path d="M212.5,453.4 C214.5,456 213,460 208,466 C203,473 209,478 207,482 C204,486 199,489 195.4,491.3"/>
<path d="M224,454.7 C224.5,458 224,462 221,468 C218,475 223,480 221.6,486.4 C220,492 216,497 214.3,500.4"/>
<path d="M236.3,453.4 C238.5,457 238.5,461 235,466 C231,472 236,477 240,483 C244,489 247.5,494 249.7,498"/>
<path d="M541.4,448.1 C539.5,450 538.5,455 540.5,459 C542.5,464 540,468 536,470.5 C533,472.5 531,474 529.8,475"/>
<path d="M559.7,440.1 C558,444 555,447 555.2,452 C555.5,458 557.5,463 556.6,467.6 C555.5,473 551,479 548.7,484.1"/>
<path d="M568.8,434.7 C571,437 573,440 571.5,444 C569.5,448 566,451 568.5,456 C572,463 580,472 584.1,479.8"/>
</g>
<defs><g id="truck"><path d="M84.8,7 L96.8,33.5 L189.5,36 V80 H86 Z" fill="#a4a4a4" stroke="#6a6a6a" stroke-width="0.8"/><rect x="100" y="38.4" width="84" height="2.4" fill="#777"/><rect x="188" y="36" width="2.6" height="44" fill="#d8d8d8"/><rect x="107.3" y="42" width="9.2" height="28.5" fill="#c9c9c9"/><rect x="127.4" y="42" width="9.2" height="28.5" fill="#c9c9c9"/><rect x="147.4" y="42" width="9.2" height="28.5" fill="#c9c9c9"/><rect x="167.7" y="42" width="9.2" height="28.5" fill="#c9c9c9"/><rect x="53.5" y="8.3" width="33" height="3.8" fill="#a9a9a9"/><rect x="80.5" y="2.6" width="4" height="4.5" rx="1.5" fill="#a8a8a8"/><path d="M76,80 H183 L187,88 V96 H76 Z" fill="#8d8d8d" stroke="#555" stroke-width="0.6"/><path d="M120,82 H178 L184,91" stroke="#d0d0d0" stroke-width="1.1" fill="none"/><rect x="82.6" y="81.5" width="25" height="15" rx="3" fill="#bdbdbd" stroke="#555" stroke-width="0.7"/><path d="M95,81.5 V96.5" stroke="#777" stroke-width="0.7"/><rect x="184" y="90" width="3.4" height="19" fill="#222"/><path d="M81.8,12 L86.2,12 L86.6,53 L82.4,53 Z" fill="#c4c4c4" stroke="#333" stroke-width="0.7"/><path d="M37,91 V44 L40,41 V19.5 Q40,16.8 43,16.8 H78.5 Q81.2,16.8 81.2,19.5 V91 Z" fill="#f00" stroke="#000" stroke-width="0.9"/><path d="M5.9,84 V57 Q6.5,53.2 12,51.8 Q28,48.5 36.5,44.2 L40,41.5 V84 Z" fill="#f00"/><path d="M36.2,44.5 V55.5 Q36.2,57.5 34,57.6 L7,58.6" stroke="#000" stroke-width="0.9" fill="none"/><path d="M40,21.2 L43,21.2 L41.3,41 L38,41 Z" fill="#d6d6d6" stroke="#000" stroke-width="0.8"/><rect x="45.7" y="20.1" width="30" height="48" rx="2.5" fill="none" stroke="#000" stroke-width="1.3"/><rect x="48.5" y="23" width="24.7" height="18.3" rx="2" fill="#d2d2d2" stroke="#000" stroke-width="1"/><rect x="68" y="46" width="4.5" height="1.2" fill="#e8e8e8"/><rect x="53.5" y="77" width="21.8" height="14" fill="#f00" stroke="#000" stroke-width="0.8"/><path d="M53.5,83.6 H75.3" stroke="#000" stroke-width="0.8"/><rect x="55" y="91" width="19.7" height="6.6" fill="#7a7a7a" stroke="#000" stroke-width="0.6"/><rect x="0.6" y="80.2" width="8.6" height="18.5" rx="2" fill="#666" stroke="#222" stroke-width="0.8"/><rect x="4.2" y="59.4" width="4.3" height="19.8" fill="#e2e2e2" stroke="#333" stroke-width="0.5"/><path d="M10.6,100 V88 A19.6,14.3 0 0 1 49.8,88 L52.8,100 Z" fill="#181818"/><path d="M8.4,87.5 A23,21.5 0 0 1 54.4,87.5 V91 H49.8 V88 A19.6,14.3 0 0 0 10.6,88 Z" fill="#e80505" stroke="#000" stroke-width="1.4"/><circle cx="30" cy="99.3" r="15.8" fill="#252525" stroke="#000" stroke-width="0.8"/><circle cx="30" cy="99.3" r="8" fill="#a9a9a9" stroke="#111" stroke-width="1"/><circle cx="30" cy="95.7" r="1.2" fill="#777" stroke="#333" stroke-width="0.4"/><circle cx="33.4" cy="98.2" r="1.2" fill="#777" stroke="#333" stroke-width="0.4"/><circle cx="32.1" cy="102.2" r="1.2" fill="#777" stroke="#333" stroke-width="0.4"/><circle cx="27.9" cy="102.2" r="1.2" fill="#777" stroke="#333" stroke-width="0.4"/><circle cx="26.6" cy="98.2" r="1.2" fill="#777" stroke="#333" stroke-width="0.4"/><circle cx="131.3" cy="99.3" r="15.8" fill="#252525" stroke="#000" stroke-width="0.8"/><circle cx="131.3" cy="99.3" r="8" fill="#a9a9a9" stroke="#111" stroke-width="1"/><circle cx="131.3" cy="95.7" r="1.2" fill="#777" stroke="#333" stroke-width="0.4"/><circle cx="134.7" cy="98.2" r="1.2" fill="#777" stroke="#333" stroke-width="0.4"/><circle cx="133.4" cy="102.2" r="1.2" fill="#777" stroke="#333" stroke-width="0.4"/><circle cx="129.2" cy="102.2" r="1.2" fill="#777" stroke="#333" stroke-width="0.4"/><circle cx="127.9" cy="98.2" r="1.2" fill="#777" stroke="#333" stroke-width="0.4"/><circle cx="164.9" cy="99.3" r="15.8" fill="#252525" stroke="#000" stroke-width="0.8"/><circle cx="164.9" cy="99.3" r="8" fill="#a9a9a9" stroke="#111" stroke-width="1"/><circle cx="164.9" cy="95.7" r="1.2" fill="#777" stroke="#333" stroke-width="0.4"/><circle cx="168.3" cy="98.2" r="1.2" fill="#777" stroke="#333" stroke-width="0.4"/><circle cx="167" cy="102.2" r="1.2" fill="#777" stroke="#333" stroke-width="0.4"/><circle cx="162.8" cy="102.2" r="1.2" fill="#777" stroke="#333" stroke-width="0.4"/><circle cx="161.5" cy="98.2" r="1.2" fill="#777" stroke="#333" stroke-width="0.4"/></g></defs>
<use href="#truck" transform="translate(210,220)"/>
<use href="#truck" transform="translate(405.6,251.1) scale(0.75)"/>
<use href="#truck" transform="translate(31.7,285.3) scale(0.443)"/>
<use href="#truck" transform="translate(118.8,284.6) scale(0.447)"/>
<text x="305" y="236.8" font-size="21.5" fill="#fff" textLength="88" lengthAdjust="spacingAndGlyphs">350 Gt-C</text>
<text x="479" y="258.6" font-size="15" fill="#fff" textLength="60.5" lengthAdjust="spacingAndGlyphs">250 Gt-C</text>
<text x="83.6" y="296.8" font-size="14" fill="#e8e8e8" textLength="20.8" lengthAdjust="spacingAndGlyphs">100</text>
<text x="173.6" y="295.6" font-size="14" fill="#e8e8e8" textLength="21.3" lengthAdjust="spacingAndGlyphs">100</text>
<circle cx="705" cy="283.5" r="55.5" fill="#262626" stroke="#111" stroke-width="1"/>
<path d="M800,0 H746 Q738,0 738,8 V12 L737,15 L729.5,84 Q718,103 690,108.5 Q650,115 632,117 Q621,120 620.5,135 V216 Q621,228 632,229 L642,229 L642,236.5 H800 Z" fill="#f00"/>
<path d="M612,215.5 H634 V281.5 H612 Q603,281.5 603,272.5 V224.5 Q603,215.5 612,215.5 Z" fill="#686868" stroke="#333" stroke-width="2.5"/>
<path d="M620.5,135 V216 Q621,228 632,229 L650,229 L650,135 Z" fill="#f00"/>
<path d="M632,282 V240 H644 A65,47 0 0 1 774,240 V282 Z" fill="#171717"/>
<path d="M776,247 H790 V282 H776 Z" fill="#171717"/>
<rect x="788" y="228" width="12" height="27" fill="#f00"/>
<circle cx="705" cy="283.5" r="55.5" fill="#262626"/>
<path d="M650,283.5 A55,55 0 0 1 760,283.5" fill="none" stroke="#2b2b2b" stroke-width="2" stroke-dasharray="2 2"/>
<circle cx="705" cy="283.5" r="27" fill="#a2a2a2" stroke="#0d0d0d" stroke-width="3.2"/>
<circle cx="705" cy="271.5" r="3.6" fill="#6e6e6e" stroke="#222" stroke-width="1"/>
<circle cx="716.4" cy="279.8" r="3.6" fill="#6e6e6e" stroke="#222" stroke-width="1"/>
<circle cx="712.1" cy="293.2" r="3.6" fill="#6e6e6e" stroke="#222" stroke-width="1"/>
<circle cx="697.9" cy="293.2" r="3.6" fill="#6e6e6e" stroke="#222" stroke-width="1"/>
<circle cx="693.6" cy="279.8" r="3.6" fill="#6e6e6e" stroke="#222" stroke-width="1"/>
<path d="M629.5,238 A80,68 0 0 1 789.5,238 H774 A65,45 0 0 0 644.5,238 Z" fill="#e60606" stroke="#000" stroke-width="3" stroke-linejoin="round"/>
<rect x="782" y="255" width="18" height="24" fill="#7d7d7d" stroke="#111" stroke-width="1.5"/>
<rect x="782" y="278" width="18" height="4" fill="#cfcfcf"/>
<path d="M724.4,92 V133 Q724.4,139 718,139.2 L629,141.8" stroke="#000" stroke-width="2.6" fill="none"/>
<path d="M735.5,13.5 L746.5,13.5 L743.8,82.5 L729,82.5 Z" fill="#cdcdcd" stroke="#000" stroke-width="3" stroke-linejoin="round"/>
<path d="M810,13.2 H767 Q759.2,13.2 759.2,21 V167 Q759.2,175.5 767,175.5 H810" fill="none" stroke="#000" stroke-width="3.4"/>
<path d="M810,21.5 H774.5 Q767.5,21.5 767.5,28.5 V75.8 Q767.5,82.8 774.5,82.8 H810 Z" fill="#cdcdcd" stroke="#000" stroke-width="3.6"/>
<rect x="617.5" y="144.5" width="12" height="69" fill="#d4d4d4" stroke="#666" stroke-width="0.8"/>
<path d="M618,150 H629 M618,156.2 H629 M618,162.4 H629 M618,168.6 H629 M618,174.8 H629 M618,181 H629 M618,187.2 H629 M618,193.4 H629 M618,199.6 H629 M618,205.8 H629 M618,212 H629" stroke="#8a8a8a" stroke-width="0.8"/>
<path d="M12,272.3 C19.3,271.1 39,268.4 56,265 C73,261.6 96.7,256.6 114,252 C131.3,247.4 140.8,244 160,237.5 C179.2,231 205.7,221.7 229,213 C252.3,204.3 278.2,194.3 300,185.5 C321.8,176.7 338.3,170 360,160.2 C381.7,150.5 402.6,140.5 430,126.9 C457.4,113.3 500.2,91.7 524.5,78.6 C548.8,65.5 561.5,57.1 575.6,48.2 C589.7,39.4 603.5,29.3 609.1,25.5" stroke="#f0121a" stroke-width="2.3" fill="none"/>
<path d="M39.4,205.7 L75.4,241.7 L39.4,277.7 L3.4,241.7 Z" fill="#fe6c08" stroke="#fe6c08" stroke-width="3" stroke-linejoin="round"/>
<text x="11.8" y="243" fill="#111" font-size="13.8" font-weight="bold" stroke="#111" stroke-width="0.4" textLength="25.2" lengthAdjust="spacing">290</text><text x="43.2" y="243" fill="#111" font-family="Liberation Serif, serif" font-size="13.8" font-weight="bold" stroke="#111" stroke-width="0.2" textLength="24.4" lengthAdjust="spacingAndGlyphs">ppm</text>
<path d="M124.7,186.7 L160.7,222.7 L124.7,258.6 L88.7,222.7 Z" fill="#fe6c08" stroke="#fe6c08" stroke-width="3" stroke-linejoin="round"/>
<text x="98.4" y="225.7" fill="#111" font-size="13.8" font-weight="bold" stroke="#111" stroke-width="0.4" textLength="25.2" lengthAdjust="spacing">310</text><text x="129.6" y="225.7" fill="#111" font-family="Liberation Serif, serif" font-size="13.8" font-weight="bold" stroke="#111" stroke-width="0.2" textLength="24.4" lengthAdjust="spacingAndGlyphs">ppm</text>
<path d="M201.2,163.8 L237.2,199.8 L201.2,235.8 L165.2,199.8 Z" fill="#fe6c08" stroke="#fe6c08" stroke-width="3" stroke-linejoin="round"/>
<text x="175.3" y="202.3" fill="#111" font-size="13.8" font-weight="bold" stroke="#111" stroke-width="0.4" textLength="25.2" lengthAdjust="spacing">340</text><text x="206.8" y="202.3" fill="#111" font-family="Liberation Serif, serif" font-size="13.8" font-weight="bold" stroke="#111" stroke-width="0.2" textLength="24.4" lengthAdjust="spacingAndGlyphs">ppm</text>
<path d="M397.8,98.6 L433.8,134.6 L397.8,170.6 L361.8,134.6 Z" fill="#fe6c08" stroke="#fe6c08" stroke-width="3" stroke-linejoin="round"/>
<text x="370.1" y="137.6" fill="#111" font-size="13.8" font-weight="bold" stroke="#111" stroke-width="0.4" textLength="25.2" lengthAdjust="spacing">400</text><text x="402.2" y="137.6" fill="#111" font-family="Liberation Serif, serif" font-size="13.8" font-weight="bold" stroke="#111" stroke-width="0.2" textLength="24.4" lengthAdjust="spacingAndGlyphs">ppm</text>
<path d="M544.4,21.4 L580.4,57.4 L544.4,93.4 L508.4,57.4 Z" fill="#fe6c08" stroke="#fe6c08" stroke-width="3" stroke-linejoin="round"/>
<text x="517.4" y="59.1" fill="#111" font-size="13.8" font-weight="bold" stroke="#111" stroke-width="0.4" textLength="25.2" lengthAdjust="spacing">500</text><text x="548.8" y="59.1" fill="#111" font-family="Liberation Serif, serif" font-size="13.8" font-weight="bold" stroke="#111" stroke-width="0.2" textLength="24.4" lengthAdjust="spacingAndGlyphs">ppm</text>
<text x="546.7" y="79.3" text-anchor="middle" fill="#111" font-family="Liberation Serif, serif" font-weight="bold" font-size="16">2<tspan font-size="10" dy="-6">o</tspan><tspan dy="6">C</tspan></text>
<rect x="31.2" y="435.2" width="106" height="132.7" rx="7" fill="#fff" stroke="#8a8a8a" stroke-width="1.3"/>
<rect x="34.4" y="438.5" width="99.2" height="126" rx="4.5" fill="#fff" stroke="#000" stroke-width="2.5"/>
<text x="41.4" y="466" font-size="23.6" font-weight="bold" fill="#000" textLength="85.4" lengthAdjust="spacingAndGlyphs">MAXIMUM</text>
<text x="54.7" y="508" font-size="46" font-weight="bold" fill="#000" textLength="58.8" lengthAdjust="spacingAndGlyphs">800</text>
<text x="57.4" y="546.8" font-size="29.6" font-weight="bold" fill="#000" textLength="53.4" lengthAdjust="spacingAndGlyphs">Gt-C</text>
<rect x="585" y="436.5" width="192.5" height="129.5" fill="#fff" stroke="#000" stroke-width="2.4"/>
<rect x="586" y="436.5" width="191" height="41.3" fill="#0c5baf"/>
<path d="M585,477.8 H777.5 M667.6,477.8 V566" stroke="#000" stroke-width="2.2"/>
<text x="607.5" y="470.5" font-size="44" font-weight="bold" font-style="italic" fill="#fff" stroke="#fff" stroke-width="0.6" textLength="147" lengthAdjust="spacingAndGlyphs">NOTICE</text>
<path d="M626.2,492.6 L659.3,548.6 L593.1,548.6 Z" fill="none" stroke="#000" stroke-width="3.8" stroke-linejoin="round"/>
<path d="M622.9,508.5 Q622.9,505.5 626.2,505.5 Q629.7,505.5 629.6,508.5 L627.9,531.5 Q627.8,533 626.2,533 Q624.6,533 624.5,531.5 Z" fill="#000"/>
<circle cx="626.2" cy="538.6" r="3.3" fill="#000"/>
<text x="679.6" y="504" font-size="20" font-weight="bold" fill="#000" textLength="72.3" lengthAdjust="spacingAndGlyphs">Safe load</text>
<text x="679.9" y="526.6" font-size="20" font-weight="bold" fill="#000" textLength="34" lengthAdjust="spacingAndGlyphs">limit</text>
<text x="679.9" y="554.1" font-size="22" font-weight="bold" fill="#000" textLength="72" lengthAdjust="spacingAndGlyphs">350 ppm</text>
</svg></body></html>
